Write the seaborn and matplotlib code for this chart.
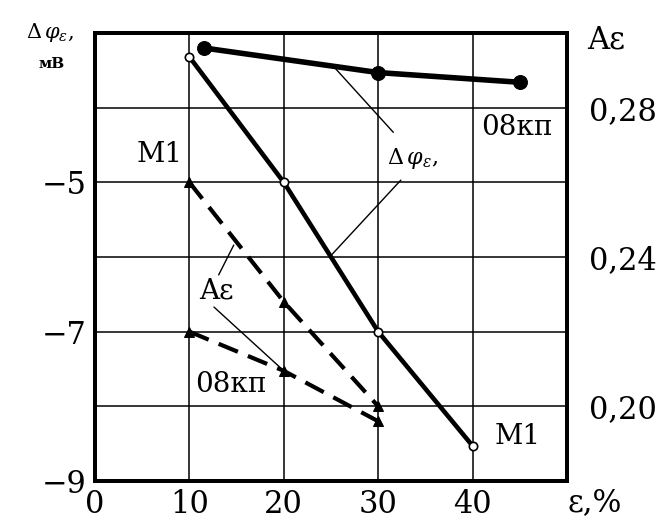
import matplotlib
matplotlib.use("Agg")
import matplotlib.pyplot as plt
import seaborn as sns
import pandas as pd
from matplotlib.ticker import FuncFormatter

# ---- data ----
m1_phi_x = [10, 20, 30, 40]
m1_phi_y = [-3.32, -5.0, -7.0, -8.53]
kp_phi_x = [11.5, 30, 45]
kp_phi_y = [-3.2, -3.53, -3.66]
m1_A_x = [10, 20, 30]
m1_A_y = [0.260, 0.228, 0.200]
kp_A_x = [10, 20, 30]
kp_A_y = [0.220, 0.2095, 0.196]
x_ticks = [0, 10, 20, 30, 40]
left_ticks = [-9, -7, -5]
right_ticks = [0.20, 0.24, 0.28]

sns.set_theme(style="white")
plt.rcParams['font.family'] = ['DejaVu Serif', 'DejaVu Sans']
plt.rcParams['mathtext.fontset'] = 'dejavuserif'
plt.rcParams['text.color'] = 'black'

fig = plt.figure(figsize=(6.68, 5.25), dpi=100)
ax = fig.add_axes([95/668, 1-481/525, (567-95)/668, (481-33)/525])
ax2 = ax.twinx()

ax.set_xlim(0, 50)
ax.set_ylim(-9, -3)
ax2.set_ylim(0.18, 0.30)

# grid
for gx in [10, 20, 30, 40]:
    ax.axvline(gx, color='black', lw=1.1, zorder=1)
for gy in [-8, -7, -6, -5, -4]:
    ax.axhline(gy, color='black', lw=1.1, zorder=1)

df_m1 = pd.DataFrame({'x': m1_phi_x, 'y': m1_phi_y})
df_kp = pd.DataFrame({'x': kp_phi_x, 'y': kp_phi_y})
df_m1A = pd.DataFrame({'x': m1_A_x, 'y': m1_A_y})
df_kpA = pd.DataFrame({'x': kp_A_x, 'y': kp_A_y})

sns.lineplot(data=df_m1, x='x', y='y', ax=ax, color='black', lw=3.3,
             marker='o', markersize=6, markerfacecolor='white',
             markeredgecolor='black', markeredgewidth=1.2, zorder=5)
sns.lineplot(data=df_kp, x='x', y='y', ax=ax, color='black', lw=4.0,
             marker='o', markersize=10, markerfacecolor='black',
             markeredgecolor='black', zorder=5)
sns.lineplot(data=df_m1A, x='x', y='y', ax=ax2, color='black', lw=3.0,
             marker='^', markersize=7, markerfacecolor='black',
             markeredgecolor='black', zorder=5)
sns.lineplot(data=df_kpA, x='x', y='y', ax=ax2, color='black', lw=3.0,
             marker='^', markersize=7, markerfacecolor='black',
             markeredgecolor='black', zorder=5)
for ln in ax2.lines:
    ln.set_dashes((5, 2.6))

ax.set_xlabel('')
ax.set_ylabel('')
ax2.set_ylabel('')

fs = 22
ax.set_xticks(x_ticks)
ax.set_yticks(left_ticks)
ax.set_yticklabels(['\u22129', '\u22127', '\u22125'])
ax2.set_yticks(right_ticks)
ax2.yaxis.set_major_formatter(FuncFormatter(lambda v, p: f"{v:.2f}".replace('.', ',')))
ax.tick_params(axis='both', length=0, labelsize=fs, colors='black', pad=6)
ax2.tick_params(axis='y', length=0, labelsize=fs, colors='black', pad=16)

for a in (ax, ax2):
    for s in a.spines.values():
        s.set_linewidth(2.8)
        s.set_color('black')

# annotations
tf = 20
ax.text(6.9, -4.63, 'M1', fontsize=tf, ha='center', va='center', color='black')
ax.text(44.7, -4.26, '08кп', fontsize=tf, ha='center', va='center', color='black')
ax.text(14.4, -7.71, '08кп', fontsize=tf, ha='center', va='center', color='black')
ax.text(44.8, -8.41, 'M1', fontsize=tf, ha='center', va='center', color='black')
ax.text(33.6, -4.68, r'$\Delta\,\varphi_{\varepsilon}$,', fontsize=16,
        ha='center', va='center', zorder=6, color='black')
ax.text(12.9, -6.45, 'Aε', fontsize=tf, ha='center', va='center', zorder=6,
        color='black')

lk = dict(arrowprops=dict(arrowstyle='-', color='black', lw=1.0,
                          shrinkA=0, shrinkB=0))
ax.annotate('', xy=(25.5, -3.48), xytext=(31.6, -4.33), **lk)
ax.annotate('', xy=(25.0, -5.98), xytext=(32.4, -4.97), **lk)
ax.annotate('', xy=(14.7, -5.84), xytext=(13.1, -6.24), **lk)
ax.annotate('', xy=(19.7, -7.49), xytext=(12.6, -6.67), **lk)

# axis labels
fig.text(50/668, 1-32/525, r'$\Delta\,\varphi_{\varepsilon}$,', fontsize=15,
         ha='center', va='center', color='black')
fig.text(52/668, 1-64/525, 'мВ', fontsize=11, fontweight='bold',
         ha='center', va='center', color='black')
fig.text(606/668, 1-40/525, 'Aε', fontsize=fs, ha='center', va='center',
         color='black')
fig.text(595/668, 1-503/525, 'ε,%', fontsize=fs, ha='center', va='center',
         color='black')

fig.savefig('out.png', dpi=100, facecolor='white')
